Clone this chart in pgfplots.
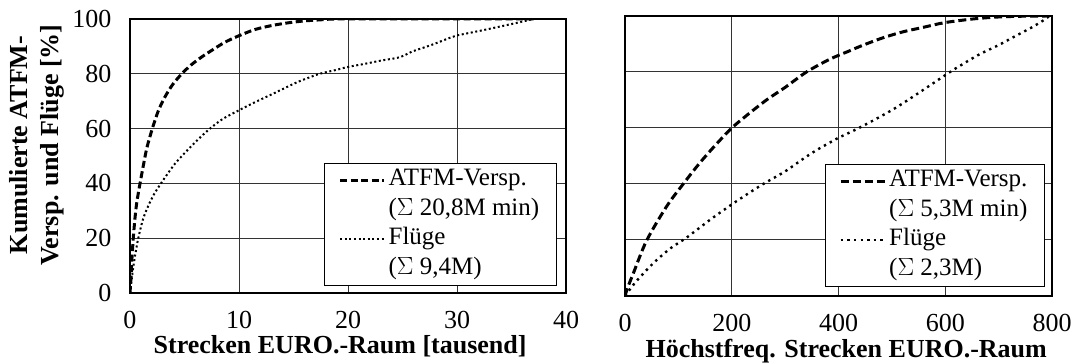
\documentclass[border=0pt]{standalone}
\usepackage{fontspec}
\setmainfont{Liberation Serif}
\usepackage{pgfplots}
\pgfplotsset{compat=1.18}
\begin{document}
\begin{tikzpicture}
\useasboundingbox (0pt,0pt) rectangle (1073pt,363pt);
\pgfplotsset{
  chartstyle/.style={
    scale only axis,
    font=\fontsize{26}{30}\selectfont,
    /pgf/number format/assume math mode=true,
    grid=major,
    major grid style={line width=1pt, black!80},
    axis line style={line width=1.4pt},
    major tick length=0pt,
    ymin=0, ymax=100, ytick={0,20,...,100},
    xticklabel style={yshift=-15pt},
    yticklabel style={xshift=-15pt},
    legend cell align=left,
    legend style={draw=black, line width=1.2pt, fill=white,
      font=\fontsize{25}{29}\selectfont, anchor=south east,
      inner xsep=14pt, inner ysep=2pt, row sep=0pt, column sep=0pt,
      nodes={text height=17.5pt, text depth=6pt, inner sep=3pt}},
    legend image code/.code={\draw[#1] (0pt,0pt) -- (44pt,0pt);},
    label style={font=\fontsize{26}{31}\selectfont\bfseries},
  },
}
\begin{axis}[chartstyle,
  at={(130pt,70pt)}, anchor=south west,
  width=436pt, height=274pt,
  xmin=0, xmax=40, xtick={0,10,...,40},
  xlabel={Strecken EURO.-Raum [tausend]},
  xlabel style={at={(axis description cs:0.482,-0.222)}, anchor=base},
  ylabel={Kumulierte ATFM-\\Versp. und Flüge [\%]},
  ylabel style={at={(axis description cs:-0.213,0.54)}, anchor=center, align=center, rotate=0},
  legend style={at={(0.979,0.026)}},
]
\addplot[black, line width=3pt, dash pattern=on 7pt off 3.5pt, smooth] coordinates {
(0,0) (0.08,5) (0.17,12) (0.3,20) (0.45,27) (0.62,33) (0.92,40) (1.2,46) (1.55,53)
(2.05,60) (2.6,66.5) (3.2,71.5) (3.9,76) (4.75,80) (5.6,83.2) (6.6,86.2) (7.6,88.8)
(8.7,91.5) (10,93.9) (11.5,96.2) (13,97.6) (14.5,98.6) (16,99.3) (17.5,99.7) (19,100)
(25,100) (31,100) (37.3,100)};
\addlegendentry{ATFM-Versp.}
\addlegendimage{empty legend}
\addlegendentry{($\Sigma$ 20,8M min)}
\addplot[black, line width=2pt, dash pattern=on 2pt off 2.6pt, smooth] coordinates {
(0,0) (0.1,3) (0.25,8) (0.46,13.5) (0.76,20) (1.2,27) (1.7,32) (2.2,36) (2.84,40)
(3.5,43.8) (4.13,47.2) (5,51) (5.66,53.7) (6.5,57) (7.34,60) (8.5,63.5) (10,66.7)
(11.5,69.7) (13,72.5) (14.1,74.6) (15.5,77.2) (17.4,80) (18.8,81.3) (20,82.5)
(21.5,83.6) (23,84.8) (24.5,85.8) (25.1,86.6) (26,88.3) (27.5,90.3) (29.4,93.2)
(30,94) (32,95.6) (33.9,97.2) (35.5,98.6) (37,100)};
\addlegendentry{Flüge}
\addlegendimage{empty legend}
\addlegendentry{($\Sigma$ 9,4M)}
\end{axis}
\begin{axis}[chartstyle,
  at={(625pt,67pt)}, anchor=south west,
  width=427pt, height=280pt,
  xmin=0, xmax=800, xtick={0,200,...,800},
  yticklabels={},
  xlabel={Höchstfreq. Strecken EURO.-Raum},
  xlabel style={at={(axis description cs:0.518,-0.221)}, anchor=base},
  legend style={at={(0.9836,0.032)}},
]
\addplot[black, line width=3pt, dash pattern=on 8pt off 4pt, smooth] coordinates {
(0,0) (5,3) (15.6,8.1) (40.5,19.8) (78,32) (109,40) (140,47.5) (170,54) (200,60)
(230,64.8) (265,70) (300,74.5) (340,80) (383,84.5) (420,87.5) (445,89.5) (483,92.2)
(520,94.3) (560,96) (598,97.6) (650,98.9) (695,99.6) (740,99.9) (790,100)};
\addlegendentry{ATFM-Versp.}
\addlegendimage{empty legend}
\addlegendentry{($\Sigma$ 5,3M min)}
\addplot[black, line width=2.4pt, dash pattern=on 2.4pt off 4.2pt, smooth] coordinates {
(0,0) (20,5) (53,11.7) (85,17) (115,20.8) (160,27.3) (200,32.7) (230,36.5) (259,40)
(300,44.5) (330,48.5) (358,52) (383,54.7) (400,56.5) (433,59.5) (470,63.2) (508,67.3)
(550,72.5) (609,80) (630,82.5) (664,86.3) (700,89.6) (732,92.9) (760,95.7) (782,98.2)
(795,100)};
\addlegendentry{Flüge}
\addlegendimage{empty legend}
\addlegendentry{($\Sigma$ 2,3M)}
\end{axis}
\end{tikzpicture}
\end{document}
